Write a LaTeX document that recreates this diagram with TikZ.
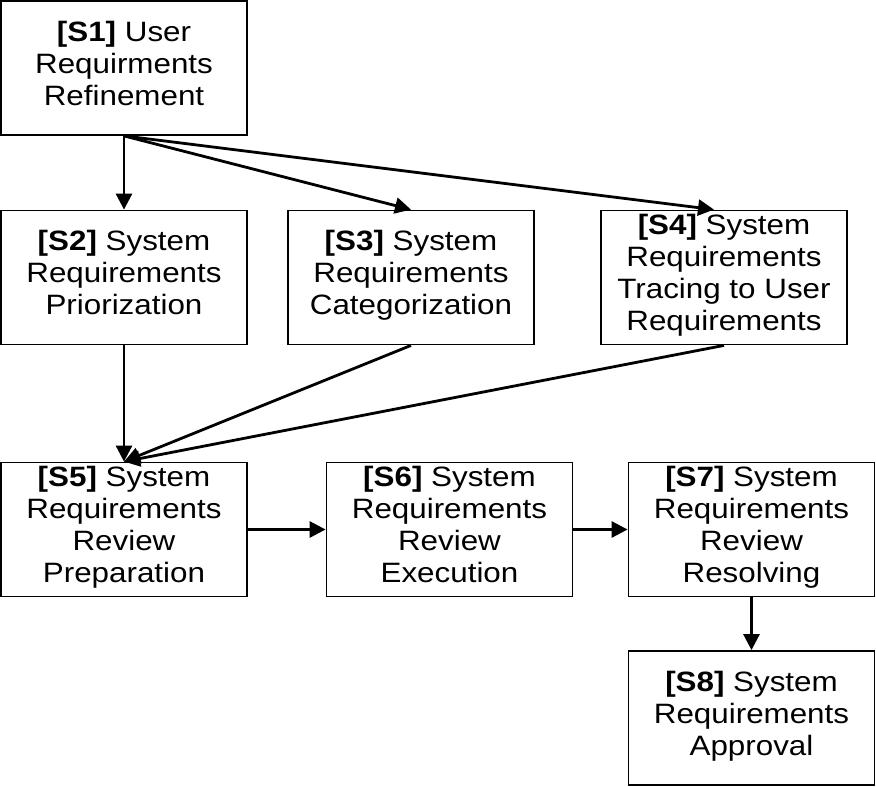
\documentclass[tikz,border=0pt]{standalone}
\usepackage{fontspec}
\setmainfont{Liberation Sans}[FakeStretch=1.12]
\usetikzlibrary{arrows.meta}
\tikzset{
  stepbox/.style={draw, line width=1.8pt, minimum width=246pt, minimum height=134pt,
    inner sep=0pt, align=center, font=\fontsize{28}{32}\selectfont,
    execute at begin node=\rule{0pt}{28.4pt},
    execute at end node=\rule[-9.6pt]{0pt}{9.6pt}},
  flow/.style={line width=2.8pt, -{Triangle[length=16pt,width=16pt]}}
}
\newcommand{\stp}[1]{\textbf{[S#1]}}

\begin{document}
\begin{tikzpicture}[x=1pt,y=-1pt]
    \useasboundingbox (0,0) rectangle (876,787);
    \node[stepbox] (s1) at (124,68) {\stp{1} User\\Requirments\\Refinement};
    \node[stepbox] (s2) at (124,277.5) {\stp{2} System\\Requirements\\Priorization};
    \node[stepbox] (s3) at (411,277.5) {\stp{3} System\\Requirements\\Categorization};
    \node[stepbox] (s4) at (724,277.5) {\stp{4} System\\Requirements\\Tracing to User\\Requirements};
    \node[stepbox] (s5) at (124,529.5) {\stp{5} System\\Requirements\\Review\\Preparation};
    \node[stepbox] (s6) at (449.5,529.5) {\stp{6} System\\Requirements\\Review\\Execution};
    \node[stepbox] (s7) at (751.5,529.5) {\stp{7} System\\Requirements\\Review\\Resolving};
    \node[stepbox] (s8) at (751.5,718) {\stp{8} System\\Requirements\\Approval};
    % refinement fans out
    \draw[flow] (s1.south) -- (s2.north);
    \draw[flow] (s1.south) -- (s3.north);
    \draw[flow] (s1.south) -- ([xshift=-10pt]s4.north);
    % everything goes into the review
    \foreach \s in {s2,s3,s4}
      \draw[flow] (\s.south) -- (s5.north);
    \draw[flow] (s5) -- (s6);
    \draw[flow] (s6) -- (s7);
    \draw[flow] (s7) -- (s8);
\end{tikzpicture}
\end{document}
